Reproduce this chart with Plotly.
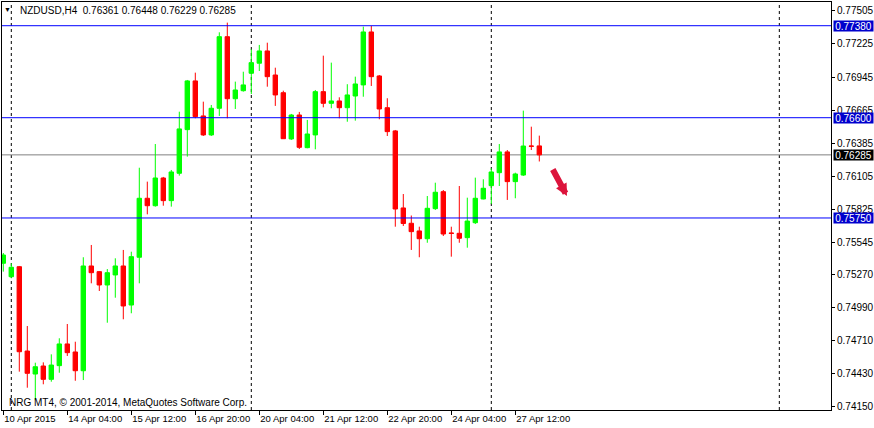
import plotly.graph_objects as go

# ---- data ----
idx = list(range(68))
opens = [0.75366, 0.75252, 0.75337, 0.74622, 0.74427, 0.74495, 0.74382, 0.74498, 0.74682, 0.74614,
         0.74455, 0.75343, 0.75295, 0.75182, 0.75267, 0.75343, 0.75012, 0.75417, 0.75917, 0.75854,
         0.76089, 0.75897, 0.76129, 0.76499, 0.76912, 0.76615, 0.76454, 0.76680, 0.77287, 0.76761,
         0.76829, 0.76977, 0.77062, 0.77166, 0.76962, 0.76812, 0.76420, 0.76623, 0.76346, 0.76454,
         0.76821, 0.76722, 0.76742, 0.76685, 0.76784, 0.76878, 0.77327, 0.76954, 0.76685, 0.76488,
         0.75835, 0.75705, 0.75640, 0.75574, 0.75829, 0.75973, 0.75623, 0.75620, 0.75583, 0.75710,
         0.75911, 0.76024, 0.76134, 0.76310, 0.76058, 0.76114, 0.76360, 0.76361]
highs = [0.75453, 0.75366, 0.75343, 0.74834, 0.74523, 0.74526, 0.74594, 0.74730, 0.74851, 0.74701,
         0.75417, 0.75521, 0.75300, 0.75317, 0.75408, 0.75479, 0.75464, 0.76176, 0.76058, 0.76377,
         0.76098, 0.76157, 0.76651, 0.76920, 0.76982, 0.76736, 0.76708, 0.77324, 0.77406, 0.76906,
         0.76990, 0.77180, 0.77217, 0.77236, 0.77024, 0.76829, 0.76632, 0.76649, 0.76581, 0.76835,
         0.77126, 0.77067, 0.76773, 0.76884, 0.76948, 0.77372, 0.77378, 0.76962, 0.76765, 0.76496,
         0.75953, 0.75771, 0.75676, 0.75936, 0.76049, 0.75987, 0.75676, 0.76021, 0.75922, 0.76092,
         0.76078, 0.76171, 0.76377, 0.76326, 0.76134, 0.76660, 0.76524, 0.76448]
lows = [0.75295, 0.75239, 0.74447, 0.74311, 0.74207, 0.74340, 0.74362, 0.74438, 0.74580, 0.74370,
        0.74376, 0.75196, 0.75131, 0.74862, 0.75074, 0.74891, 0.74942, 0.75196, 0.75781, 0.75846,
        0.75854, 0.75846, 0.76109, 0.76270, 0.76595, 0.76445, 0.76445, 0.76615, 0.76595, 0.76674,
        0.76821, 0.76801, 0.76996, 0.76863, 0.76700, 0.76420, 0.76411, 0.76335, 0.76341, 0.76332,
        0.76688, 0.76680, 0.76595, 0.76566, 0.76575, 0.76778, 0.76869, 0.76587, 0.76445, 0.75676,
        0.75682, 0.75479, 0.75417, 0.75540, 0.75818, 0.75597, 0.75422, 0.75540, 0.75498, 0.75699,
        0.75908, 0.75869, 0.76021, 0.75903, 0.75917, 0.76106, 0.76326, 0.76229]
closes = [0.75436, 0.75332, 0.74616, 0.74433, 0.74489, 0.74382, 0.74503, 0.74682, 0.74608, 0.74455,
          0.75343, 0.75286, 0.75182, 0.75286, 0.75343, 0.75004, 0.75422, 0.75917, 0.75854, 0.76089,
          0.75897, 0.76140, 0.76505, 0.76912, 0.76609, 0.76454, 0.76680, 0.77287, 0.76761, 0.76835,
          0.76878, 0.77067, 0.77166, 0.76948, 0.76793, 0.76422, 0.76623, 0.76349, 0.76462, 0.76821,
          0.76722, 0.76742, 0.76685, 0.76793, 0.76886, 0.77327, 0.76948, 0.76674, 0.76482, 0.75826,
          0.75703, 0.75634, 0.75574, 0.75832, 0.75968, 0.75614, 0.75619, 0.75578, 0.75724, 0.75917,
          0.76002, 0.76140, 0.76310, 0.76058, 0.76123, 0.76360, 0.76358, 0.76285]

time_tick_idx = [0, 8, 16, 24, 32, 40, 48, 56, 64]
time_tick_labels = ["10 Apr 2015", "14 Apr 04:00", "15 Apr 12:00", "16 Apr 20:00", "20 Apr 04:00",
                    "21 Apr 12:00", "22 Apr 20:00", "24 Apr 04:00", "27 Apr 12:00"]
price_ticks = [0.77505, 0.77225, 0.76945, 0.76665, 0.76385, 0.76105, 0.75825, 0.75545,
               0.75270, 0.74990, 0.74710, 0.74430, 0.74150]
price_tick_labels = ["%.5f" % v for v in price_ticks]
level_lines = [0.77380, 0.76600, 0.75750]
bid_price = 0.76285
separator_idx = [1, 31, 61, 97]
title_text = "NZDUSD,H4&nbsp;&nbsp;0.76361 0.76448 0.76229 0.76285"
copyright_text = "NRG MT4, \u00a9 2001-2014, MetaQuotes Software Corp."
arrow_head = (70.46, 0.75936)

FONT = "Liberation Sans, Arial, sans-serif"
FS = 10

fig = go.Figure()
fig.add_trace(go.Candlestick(
    x=idx, open=opens, high=highs, low=lows, close=closes,
    increasing=dict(line=dict(color="#00FF00", width=1), fillcolor="#00FF00"),
    decreasing=dict(line=dict(color="#FF0000", width=1), fillcolor="#FF0000"),
    whiskerwidth=0, hoverinfo="skip", showlegend=False,
))

shapes = []
for s in separator_idx:
    shapes.append(dict(type="line", xref="x", yref="paper", x0=s, x1=s, y0=0, y1=1,
                       line=dict(color="black", width=1, dash="3px,3px"), layer="below"))
shapes.append(dict(type="line", xref="paper", yref="y", x0=0, x1=1, y0=bid_price, y1=bid_price,
                   line=dict(color="#808080", width=1), layer="below"))
for lv in level_lines:
    shapes.append(dict(type="line", xref="paper", yref="y", x0=0, x1=1, y0=lv, y1=lv,
                       line=dict(color="#0000FF", width=1), layer="above"))

annotations = []
for lv in level_lines:
    annotations.append(dict(xref="paper", yref="y", x=1, y=lv, xanchor="left", yanchor="middle",
                            xshift=2, text="%.5f" % lv, showarrow=False,
                            bgcolor="#0000CD", font=dict(color="white", size=FS, family=FONT),
                            width=39, height=10, borderpad=0))
annotations.append(dict(xref="paper", yref="y", x=1, y=bid_price, xanchor="left", yanchor="middle",
                        xshift=2, text="%.5f" % bid_price, showarrow=False,
                        bgcolor="black", font=dict(color="white", size=FS, family=FONT),
                        width=39, height=10, borderpad=0))
annotations.append(dict(xref="paper", yref="paper", x=0.0193, y=0.978, xanchor="left", yanchor="middle",
                        text=title_text, showarrow=False,
                        font=dict(color="black", size=FS, family=FONT)))
annotations.append(dict(xref="paper", yref="paper", x=0.0072, y=0.981, xanchor="center", yanchor="middle",
                        text="\u25bc", showarrow=False,
                        font=dict(color="black", size=7, family=FONT)))
annotations.append(dict(xref="paper", yref="paper", x=0.0066, y=0.0179, xanchor="left", yanchor="middle",
                        text=copyright_text, showarrow=False,
                        font=dict(color="black", size=FS, family=FONT)))
annotations.append(dict(xref="x", yref="y", x=arrow_head[0], y=arrow_head[1], text="",
                        showarrow=True, arrowhead=2, arrowsize=0.4, arrowwidth=6,
                        arrowcolor="#DC143C", ax=-15, ay=-28, standoff=0))

fig.update_layout(
    width=874, height=428,
    margin=dict(l=2, r=43, t=2, b=18, autoexpand=False),
    paper_bgcolor="white", plot_bgcolor="white",
    boxgap=0.45, boxgroupgap=0,
    shapes=shapes, annotations=annotations,
    font=dict(family=FONT, size=FS, color="black"),
    xaxis=dict(range=[-0.1625, 103.46], showgrid=False, zeroline=False, automargin=False,
               rangeslider=dict(visible=False),
               tickmode="array", tickvals=time_tick_idx, ticktext=time_tick_labels,
               ticks="outside", ticklen=4, tickcolor="black", tickwidth=1, tickangle=0,
               ticklabelposition="outside right",
               showline=True, linecolor="black", linewidth=1, mirror=True,
               tickfont=dict(family=FONT, size=9.5, color="black")),
    yaxis=dict(range=[0.74122, 0.77581], side="right", showgrid=False, zeroline=False, automargin=False,
               tickmode="array", tickvals=price_ticks, ticktext=price_tick_labels,
               ticks="outside", ticklen=3, tickcolor="black", tickwidth=1,
               showline=True, linecolor="black", linewidth=1, mirror=True,
               tickfont=dict(family=FONT, size=FS, color="black")),
    hovermode=False,
)

fig.write_html("out.html", config={"displayModeBar": False},
               post_script="document.body.style.margin='0';document.body.style.padding='0';")
